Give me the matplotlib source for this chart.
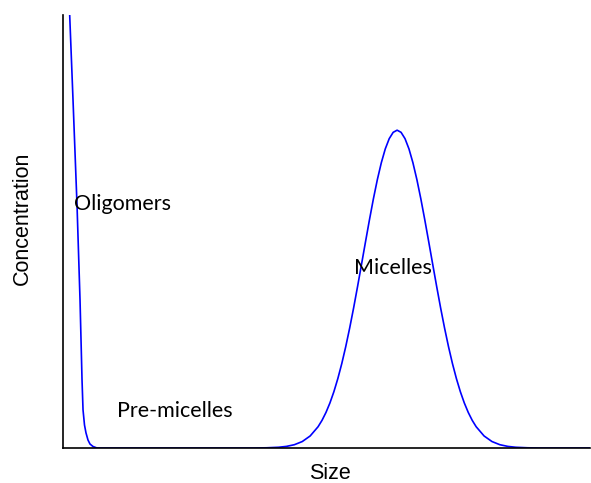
import matplotlib
matplotlib.use("Agg")
import matplotlib.pyplot as plt

# size (arbitrary units) and concentration (% of axis height)
oligo_x = [1.23, 1.90, 2.66, 3.23, 3.61, 3.80, 4.08, 4.36, 4.74, 5.12, 5.69, 6.45]
oligo_y = [101.2, 80.4, 56.1, 34.2, 15.7, 8.8, 5.3, 3.5, 1.85, 0.92, 0.35, 0.0]

micelle_x = [36.4, 38.65, 40.9, 42.4, 43.9, 45.4, 46.9, 48.4, 49.15, 49.9,
             50.65, 51.4, 52.15, 52.9, 53.65, 54.4, 55.15, 55.9, 56.65, 57.4,
             58.15, 58.9, 59.65, 60.4, 61.15, 61.9, 62.65, 63.4,
             64.15, 64.9, 65.65, 66.4, 67.15, 67.9, 68.65, 69.4, 70.15, 70.9,
             71.65, 72.4, 73.15, 73.9, 74.65, 75.4, 76.15, 76.9, 77.65, 78.4,
             79.9, 81.4, 82.9, 84.4, 85.9, 88.15, 90.4]
micelle_y = [0.0, 0.05, 0.17, 0.37, 0.76, 1.49, 2.78, 4.91, 6.39, 8.21,
             10.40, 13.00, 16.03, 19.50, 23.41, 27.72, 32.38, 37.33, 42.45, 47.61,
             52.70, 57.55, 61.99, 65.87, 69.07, 71.44, 72.9, 73.4,
             72.9, 71.44, 69.07, 65.87, 61.99, 57.55, 52.70, 47.61, 42.45, 37.33,
             32.38, 27.72, 23.41, 19.50, 16.03, 13.00, 10.40, 8.21, 6.39, 4.91,
             2.78, 1.49, 0.76, 0.37, 0.17, 0.05, 0.0]

end_x = [100]
end_y = [0.0]

labels = ["Oligomers", "Micelles", "Pre-micelles"]
label_pos = [(2.0, 56.4), (55.2, 41.6), (10.2, 8.5)]

x = oligo_x + micelle_x + end_x
y = oligo_y + micelle_y + end_y

fig = plt.figure(figsize=(5.91, 4.83), dpi=100)
ax = fig.add_axes([63 / 591, 35 / 483, 527 / 591, 433 / 483])
ax.plot(x, y, color="#0000ff", linewidth=1.2)
ax.set_xlim(0, 100)
ax.set_ylim(0, 100)

for s in ["top", "right"]:
    ax.spines[s].set_visible(False)
for s in ["left", "bottom"]:
    ax.spines[s].set_linewidth(1.2)
ax.set_xticks([])
ax.set_yticks([])

for txt, (tx, ty) in zip(labels, label_pos):
    ax.text(tx, ty, txt, fontsize=15.5, family="Lato", va="center", ha="left")

ax.set_xlabel("Size", fontsize=15.5, family="Liberation Sans")
ax.xaxis.set_label_coords(0.507, -0.06)
ax.xaxis.label.set_va("center")
ax.set_ylabel("Concentration", fontsize=15.5, family="Liberation Sans")
ax.yaxis.set_label_coords(-0.078, 0.531)
ax.yaxis.label.set_va("center")

fig.savefig("out.png", dpi=100)
